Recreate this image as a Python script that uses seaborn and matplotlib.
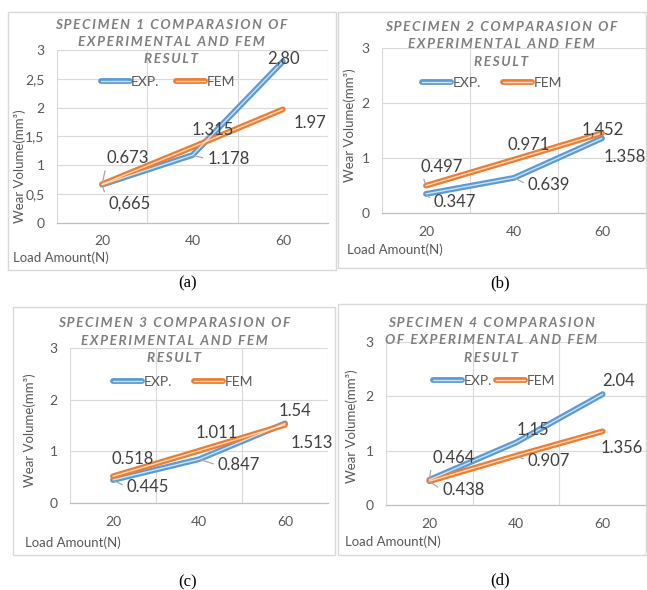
import matplotlib
matplotlib.use("Agg")
import matplotlib.pyplot as plt
from matplotlib.lines import Line2D
from matplotlib.patches import Rectangle
import seaborn as sns
import pandas as pd

# ---------------- data ----------------
loads = [20, 40, 60]
exp_a = [0.665, 1.178, 2.80]
fem_a = [0.673, 1.315, 1.97]
exp_b = [0.347, 0.639, 1.358]
fem_b = [0.497, 0.971, 1.452]
exp_c = [0.445, 0.847, 1.54]
fem_c = [0.518, 1.011, 1.513]
exp_d = [0.464, 1.15, 2.04]
fem_d = [0.438, 0.907, 1.356]

label_exp_a = ["0,665", "1.178", "2,80"]
label_fem_a = ["0.673", "1.315", "1.97"]
label_exp_b = ["0.347", "0.639", "1.358"]
label_fem_b = ["0.497", "0.971", "1,452"]
label_exp_c = ["0.445", "0.847", "1.54"]
label_fem_c = ["0.518", "1.011", "1.513"]
label_exp_d = ["0.464", "1,15", "2.04"]
label_fem_d = ["0.438", "0.907", "1.356"]

titles = [
    ["SPECIMEN 1 COMPARASION OF", "EXPERIMENTAL AND FEM", "RESULT"],
    ["SPECIMEN 2 COMPARASION OF", "EXPERIMENTAL AND FEM", "RESULT"],
    ["SPECIMEN 3 COMPARASION OF", "EXPERIMENTAL AND FEM", "RESULT"],
    ["SPECIMEN 4 COMPARASION", "OF EXPERIMENTAL AND FEM", "RESULT"],
]
captions = ["(a)", "(b)", "(c)", "(d)"]
ytick_a = [0, 0.5, 1, 1.5, 2, 2.5, 3]
ytick_a_labels = ["0", "0,5", "1", "1,5", "2", "2,5", "3"]
ytick_other = [0, 1, 2, 3]
ytick_other_labels = ["0", "1", "2", "3"]
xtick_labels = ["20", "40", "60"]

# ---------------- style ----------------
sns.set_theme(style="white")
plt.rcParams["font.family"] = ["Lato", "DejaVu Sans"]

W, H = 647, 590
fig = plt.figure(figsize=(W / 100, H / 100), dpi=100)
fig.patch.set_facecolor("white")

BLUE = "#5b9bd5"
ORANGE = "#ed7d31"
GRID = "#d9d9d9"
TICK = "#595959"
LBL = "#404040"
TITLE = "#7f7f7f"


def fx(x):
    return x / W


def fy(y):
    return 1 - y / H


def spaced(s):
    return "\u2009".join(list(s))


panels = [
    dict(box=(8, 12, 336, 270), ax=(57, 50, 328, 223), exp=exp_a, fem=fem_a,
         lexp=label_exp_a, lfem=label_fem_a,
         yt=ytick_a, ytl=ytick_a_labels,
         title_x=171, title_y=(25, 42, 59),
         leg=(168, 82, 1.2),
         ylab=(20, 166), xlab=(13, 258), cap=(188, 283),
         off_exp=[(27, -19), (36, -4), (1, 3)],
         off_fem=[(26, 26), (20, 17), (27, -14)],
         lead_exp=[True, True, False], lead_fem=[True, False, False]),
    dict(box=(338, 12, 646, 268), ax=(382, 48, 646, 213), exp=exp_b, fem=fem_b,
         lexp=label_exp_b, lfem=label_fem_b,
         yt=ytick_other, ytl=ytick_other_labels,
         title_x=501, title_y=(27, 44, 62),
         leg=(492, 83, 1.6),
         ylab=(350, 125), xlab=(347, 250), cap=(500, 283),
         off_exp=[(29, -8), (35, -7), (23, -19)],
         off_fem=[(16, 19), (15, 15), (1, 4)],
         lead_exp=[True, True, False], lead_fem=[True, False, False]),
    dict(box=(13, 307, 335, 555), ax=(70, 348, 328, 503), exp=exp_c, fem=fem_c,
         lexp=label_exp_c, lfem=label_fem_c,
         yt=ytick_other, ytl=ytick_other_labels,
         title_x=174, title_y=(323, 341, 358),
         leg=(183, 382, 1.6),
         ylab=(30, 430), xlab=(25, 543), cap=(188, 582),
         off_exp=[(35, -7), (40, -6), (10, 12)],
         off_fem=[(20, 17), (18, 18), (27, -18)],
         lead_exp=[True, True, False], lead_fem=[False, False, False]),
    dict(box=(338, 304, 646, 555), ax=(386, 342, 646, 505), exp=exp_d, fem=fem_d,
         lexp=label_exp_d, lfem=label_fem_d,
         yt=ytick_other, ytl=ytick_other_labels,
         title_x=491, title_y=(323, 340, 358),
         leg=(494, 381, 0.3),
         ylab=(352, 426), xlab=(345, 542), cap=(500, 580),
         off_exp=[(24, 22), (17, 13), (16, 13)],
         off_fem=[(34, -9), (33, -5), (19, -17)],
         lead_exp=[True, False, False], lead_fem=[True, True, False]),
]

for i, p in enumerate(panels):
    bx0, by0, bx1, by1 = p["box"]
    fig.patches.append(Rectangle((fx(bx0), fy(by1)), fx(bx1 - bx0), (by1 - by0) / H,
                                 transform=fig.transFigure, fill=False,
                                 edgecolor=GRID, linewidth=1.0, zorder=0))
    l, t, r, b = p["ax"]
    ax = fig.add_axes([fx(l), fy(b), fx(r - l), (b - t) / H])
    ax.set_facecolor("none")

    df = pd.DataFrame({
        "Load": loads * 2,
        "Wear": p["exp"] + p["fem"],
        "Series": ["EXP."] * 3 + ["FEM"] * 3,
    })
    sns.lineplot(data=df, x="Load", y="Wear", hue="Series",
                 palette={"EXP.": BLUE, "FEM": ORANGE}, linewidth=4.2,
                 legend=False, ax=ax, zorder=3)
    sns.lineplot(data=df, x="Load", y="Wear", units="Series", estimator=None,
                 color="white", linewidth=1.0, alpha=0.7,
                 legend=False, ax=ax, zorder=4)

    ax.set_xlim(10, 70)
    ax.set_ylim(0, 3)
    ax.set_xticks(loads)
    ax.set_xticklabels(xtick_labels)
    ax.set_yticks(p["yt"])
    ax.set_yticklabels(p["ytl"])
    ax.tick_params(axis="both", length=0, labelsize=10, labelcolor=TICK)
    ax.tick_params(axis="x", pad=9)
    ax.tick_params(axis="y", pad=9)
    for yv in p["yt"][1:]:
        ax.axhline(yv, color=GRID, linewidth=0.8, zorder=1)
    for xv in [10, 30, 50, 70]:
        ax.axvline(xv, color=GRID, linewidth=0.8, zorder=1)
    for s in ["top", "right", "left"]:
        ax.spines[s].set_visible(False)
    ax.spines["bottom"].set_color("#bfbfbf")
    ax.spines["bottom"].set_linewidth(0.9)
    ax.set_xlabel("")
    ax.set_ylabel("")

    for vals, labs, offs, leads in [(p["exp"], p["lexp"], p["off_exp"], p["lead_exp"]),
                                    (p["fem"], p["lfem"], p["off_fem"], p["lead_fem"])]:
        for xv, yv, lab, off, lead in zip(loads, vals, labs, offs, leads):
            kw = {}
            if lead:
                kw["arrowprops"] = dict(arrowstyle="-", color="#a6a6a6", lw=0.9,
                                        shrinkA=1, shrinkB=1,
                                        relpos=(0.0, 0.5) if off[1] < 0 else (0.0, 0.3))
            ax.annotate(lab, xy=(xv, yv), xytext=off, textcoords="offset pixels",
                        ha="center", va="center", fontsize=12, color=LBL,
                        zorder=6, annotation_clip=False, **kw)

    handles = [(Line2D([], [], color=BLUE, lw=4.2), Line2D([], [], color="white", lw=1.0, alpha=0.7)),
               (Line2D([], [], color=ORANGE, lw=4.2), Line2D([], [], color="white", lw=1.0, alpha=0.7))]
    lx, ly, cs = p["leg"]
    leg = ax.legend(handles, ["EXP.", "FEM"], ncol=2, loc="center",
                    bbox_to_anchor=(fx(lx), fy(ly)), bbox_transform=fig.transFigure,
                    frameon=False, fontsize=10, handlelength=2.1, handletextpad=0.1,
                    columnspacing=cs, borderpad=0.0)
    for txt in leg.get_texts():
        txt.set_color(TICK)

    for line, ty in zip(titles[i], p["title_y"]):
        fig.text(fx(p["title_x"]), fy(ty), spaced(line), ha="center", va="center",
                 fontsize=9.8, fontweight="bold", fontstyle="italic", color=TITLE)

    fig.text(fx(p["ylab"][0]), fy(p["ylab"][1]), "Wear Volume(mm³)", rotation=90,
             ha="center", va="center", fontsize=9.5, color=TICK)
    fig.text(fx(p["xlab"][0]), fy(p["xlab"][1]), "Load Amount(N)",
             ha="left", va="center", fontsize=9.5, color=TICK)
    fig.text(fx(p["cap"][0]), fy(p["cap"][1]), captions[i], ha="center", va="center",
             fontsize=12, color="#000000", family=["Liberation Serif", "DejaVu Serif"])

fig.savefig("out.png", dpi=100, facecolor="white")
